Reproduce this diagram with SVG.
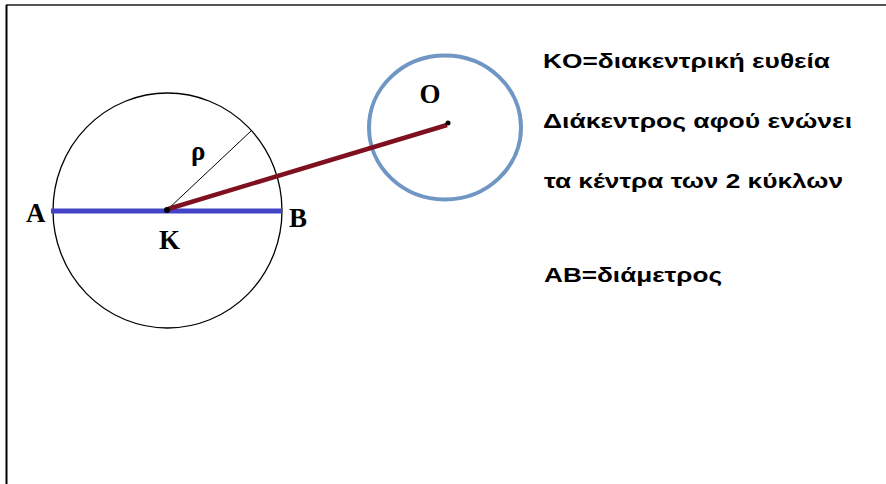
<svg xmlns="http://www.w3.org/2000/svg" width="886" height="484" viewBox="0 0 886 484">
<style>
.lbl{font-family:"Liberation Serif","Times New Roman",serif;font-weight:bold;font-size:27px;fill:#000}
.txt{font-family:"Liberation Sans",Arial,sans-serif;font-weight:bold;font-size:20px;fill:#000}
</style>
<rect x="0" y="0" width="886" height="484" fill="#fff"/>
<g id="frame">
<line x1="6" y1="5" x2="886" y2="5" stroke="#555" stroke-width="2"/>
<line x1="6.5" y1="5" x2="6.5" y2="484" stroke="#000" stroke-width="2"/>
</g>
<g id="circleK">
<ellipse cx="167.5" cy="210.5" rx="114.5" ry="117.5" fill="none" stroke="#000" stroke-width="1.3"/>
</g>
<g id="circleO">
<ellipse cx="445" cy="127.5" rx="76" ry="72" fill="none" stroke="#7096c4" stroke-width="4"/>
</g>
<g id="connectors">
<line x1="51" y1="211" x2="282" y2="211" stroke="#4343c8" stroke-width="5"/>
<line x1="167" y1="210" x2="251" y2="131" stroke="#000" stroke-width="1"/>
<line x1="168" y1="209" x2="447" y2="125" stroke="#7f1020" stroke-width="4.5"/>
</g>
<g id="pointK">
<circle cx="167" cy="210" r="3" fill="#000"/>
<text class="lbl" x="169.5" y="249" text-anchor="middle">K</text>
</g>
<g id="pointO">
<circle cx="448" cy="123" r="2.5" fill="#000"/>
<text class="lbl" x="430" y="103" text-anchor="middle">O</text>
</g>
<g id="pointA"><text class="lbl" x="26" y="222">A</text></g>
<g id="pointB"><text class="lbl" x="289" y="227">B</text></g>
<g id="rho"><text class="lbl" x="191" y="160" font-size="23">ρ</text></g>
<g id="notes">
<text class="txt" x="543" y="68" textLength="287" lengthAdjust="spacingAndGlyphs">KO=διακεντρική ευθεία</text>
<text class="txt" x="543" y="128" textLength="309" lengthAdjust="spacingAndGlyphs">Διάκεντρος αφού ενώνει</text>
<text class="txt" x="544" y="188" textLength="299" lengthAdjust="spacingAndGlyphs">τα κέντρα των 2 κύκλων</text>
<text class="txt" x="544" y="282" textLength="178" lengthAdjust="spacingAndGlyphs">AB=διάμετρος</text>
</g>
</svg>
